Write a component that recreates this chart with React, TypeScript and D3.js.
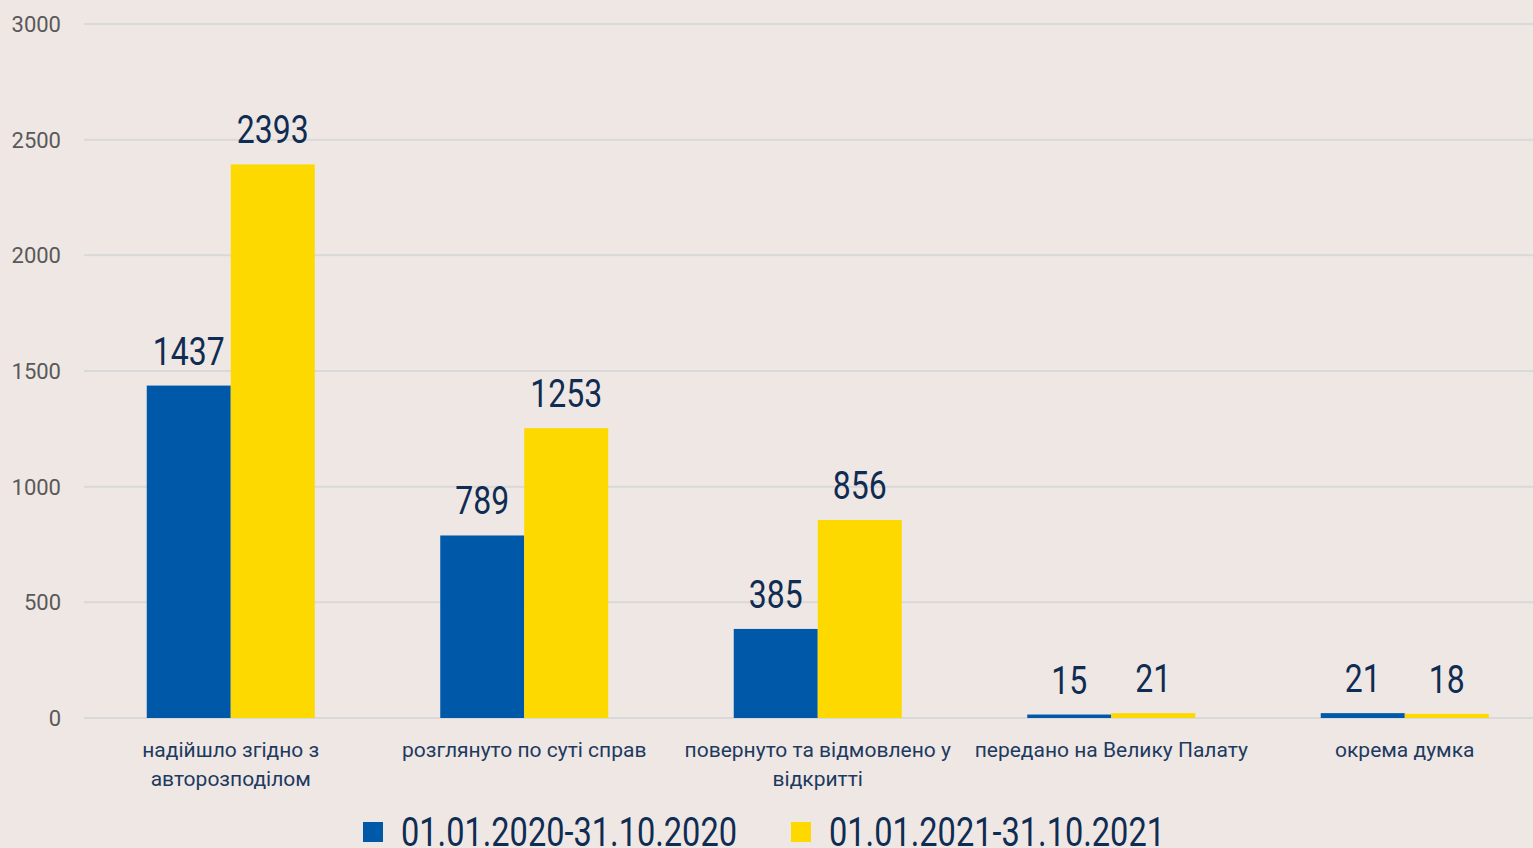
import React from "react";
import * as d3 from "d3";

const categories = [
  ["надійшло згідно з", "авторозподілом"],
  ["розглянуто по суті справ"],
  ["повернуто та відмовлено у", "відкритті"],
  ["передано на Велику Палату"],
  ["окрема думка"],
];
const series2020 = [1437, 789, 385, 15, 21];
const series2021 = [2393, 1253, 856, 21, 18];
const seriesNames = ["01.01.2020-31.10.2020", "01.01.2021-31.10.2021"];
const yTicks = [0, 500, 1000, 1500, 2000, 2500, 3000];

const W = 1533;
const H = 848;
const BG = "#EFE7E4";
const BLUE = "#0058A9";
const YELLOW = "#FDD900";
const NAVY = "#0F2C52";

export default function App() {
  const x = d3
    .scaleBand<number>()
    .domain(d3.range(categories.length))
    .range([84, 84 + 293.5 * categories.length])
    .paddingInner(0)
    .paddingOuter(0);
  const y = d3.scaleLinear().domain([0, 3000]).range([718, 24]);
  const barW = 84;
  const cx = (i: number) => (x(i) as number) + x.bandwidth() / 2;
  const condensed = (px: number, py: number) =>
    `translate(${px},${py}) scale(0.82,1)`;

  return (
    <svg
      width={W}
      height={H}
      style={{ position: "absolute", left: 0, top: 0, background: BG }}
    >
      <rect x={0} y={0} width={W} height={H} fill={BG} />
      {yTicks.map((t) => (
        <g key={t}>
          <line x1={84} x2={W} y1={y(t)} y2={y(t)} stroke="#D9D9D9" strokeWidth={2} />
          <text
            x={61}
            y={y(t)}
            dy="0.36em"
            textAnchor="end"
            fontFamily="Roboto"
            fontSize={22}
            fill="#595959"
          >
            {t}
          </text>
        </g>
      ))}
      {categories.map((lines, i) => {
        const vals = [series2020[i], series2021[i]];
        return (
          <g key={i}>
            {vals.map((v, j) => {
              const bx = cx(i) - barW + j * barW;
              const top = y(v);
              return (
                <g key={j}>
                  <rect
                    x={bx}
                    y={top}
                    width={barW}
                    height={y(0) - top}
                    fill={j === 0 ? BLUE : YELLOW}
                  />
                  <text
                    transform={condensed(bx + barW / 2, top - 21)}
                    textAnchor="middle"
                    fontFamily="Roboto"
                    fontSize={39}
                    fill={NAVY}
                  >
                    {v}
                  </text>
                </g>
              );
            })}
            {lines.map((l, k) => (
              <text
                key={k}
                x={cx(i)}
                y={757 + k * 29}
                textAnchor="middle"
                fontFamily="Roboto"
                fontSize={21}
                fill="#1D3A5F"
              >
                {l}
              </text>
            ))}
          </g>
        );
      })}
      {seriesNames.map((n, j) => {
        const sx = j === 0 ? 363 : 791;
        return (
          <g key={n}>
            <rect x={sx} y={822} width={20} height={20} fill={j === 0 ? BLUE : YELLOW} />
            <text
              x={sx + 38}
              y={846}
              fontFamily="Roboto"
              fontSize={40}
              fill={NAVY}
              textLength={336}
              lengthAdjust="spacingAndGlyphs"
            >
              {n}
            </text>
          </g>
        );
      })}
    </svg>
  );
}
